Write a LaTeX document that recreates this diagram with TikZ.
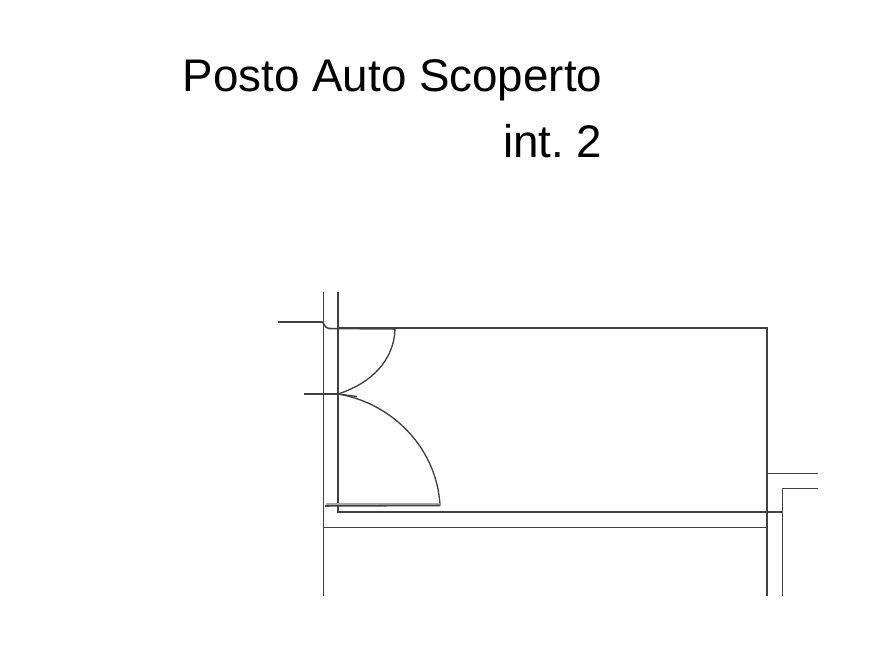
\documentclass[tikz,border=0pt]{standalone}
\usepackage{fontspec}
\setmainfont{Liberation Sans}
\usetikzlibrary{positioning,calc}
\frenchspacing
\tikzset{
wall/.style = {draw, line width=1.15pt, black!75},
door/.style = {draw, line width=1pt, black!75},
title/.style = {inner sep=0pt, anchor=base east, font=\fontsize{34.3pt}{40pt}\selectfont, black},
band/.style = {draw, line width=1.6pt, black!35}
}

\begin{document}
\begin{tikzpicture}[x=0.75pt,y=-0.75pt]
	\useasboundingbox (0,0) rectangle (893,670);
	\node[title] (name) at (602.5,92) {Posto Auto Scoperto};
	\node[title] (num) at (602.5,158) {int. 2};
	\coordinate (outtop) at (323.5,292);
	\coordinate (outbot) at (323.5,596);
	\coordinate (intop) at (338,292);
	\coordinate (incorner) at (338,512);
	\coordinate (tl) at (338,328);
	\coordinate (tr) at (767,328);
	\coordinate (rbot) at (767,596);
	\coordinate (hinge) at (395,329);
	\coordinate (meet) at (338,394);
	\coordinate (leafend) at (440,505.5);
	\draw[wall] (outtop) -- (outbot);
	\draw[wall] (intop) -- (incorner) -- (782.5,512);
	\draw[wall] (tl) -- (tr) -- (rbot);
	\draw[wall] (278,322) -- (322,322) .. controls (324,322) and (324,328) .. (329,328.5) -- (hinge);
	\draw[wall] (323.5,527.5) -- (767,527.5);
	\draw[wall] (767,473.5) -- (818,473.5);
	\draw[wall] (818,488.5) -- (782.5,488.5) -- (782.5,596);
	\draw[wall] (304,394) -- (meet);
	%doors
	\draw[door] (hinge) .. controls (394,360) and (372,383) .. (meet);
	\draw[door] (meet) .. controls (392,403) and (437,448) .. (leafend);
	\draw[door] (meet) -- (357,396.5);
	\draw[band] (326,503.8) -- (440,503.8);
	\draw[wall] (325,506) -- (leafend);
\end{tikzpicture}
\end{document}
